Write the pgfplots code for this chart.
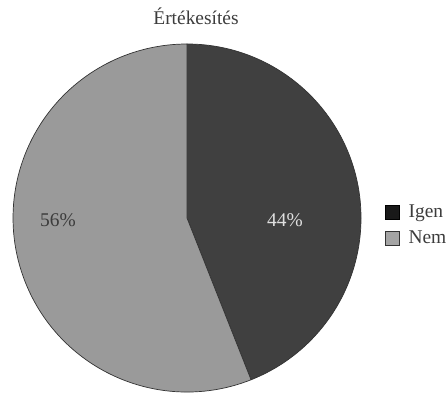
\documentclass[border=0pt]{standalone}
\usepackage{fontspec}
\setmainfont{Liberation Serif}
\usepackage{pgfplots}
\usepackage{pgfplotstable}
\pgfplotsset{compat=1.18}

\definecolor{igenfill}{HTML}{404040}
\definecolor{nemfill}{HTML}{9A9A9A}
\definecolor{edge}{HTML}{333333}
\definecolor{txt}{HTML}{3C3C3C}

% share of each answer
\pgfplotstableread{
name value
Igen 44
Nem  56
}\piedata

\newcommand\chartfont{\fontsize{19.5}{22}\selectfont}

\begin{document}
\begin{tikzpicture}
\pgfplotstablegetelem{0}{value}\of\piedata \let\vIgen\pgfplotsretval
\pgfplotstablegetelem{1}{value}\of\piedata \let\vNem\pgfplotsretval
\pgfmathsetmacro\angIgen{\vIgen/(\vIgen+\vNem)*360}
\pgfmathsetmacro\endIgen{90-\angIgen}
\useasboundingbox (0,0) rectangle (448bp,395bp);
\begin{axis}[
  scale only axis, width=448bp, height=395bp,
  xmin=0, xmax=448, ymin=0, ymax=395,
  hide axis, clip=false,
  legend image code/.code={\draw[#1] (0bp,-7bp) rectangle (14bp,7bp);
    \path (21bp,0bp);},
  legend style={at={(axis cs:385,170)}, anchor=west, draw=none, fill=none,
    inner sep=0pt, row sep=8bp, text=txt, font=\chartfont},
  legend cell align=left,
]
% slices, clockwise from twelve o'clock
\filldraw[fill=igenfill, draw=edge, line width=0.7bp]
  (axis cs:187,177) -- (axis cs:187,351)
  arc[start angle=90, end angle=\endIgen, radius=174bp] -- cycle;
\filldraw[fill=nemfill, draw=edge, line width=0.7bp]
  (axis cs:187,177) -- ++(\endIgen:174bp)
  arc[start angle=\endIgen, end angle=-270, radius=174bp] -- cycle;

\node[anchor=base, text=white!88!black, font=\chartfont]
  at (axis cs:285,168) {\vIgen\%};
\node[anchor=base, text=txt, font=\chartfont]
  at (axis cs:58,168) {\vNem\%};

\node[anchor=base, text=txt, font=\chartfont]
  at (axis cs:196,370) {Értékesítés};

\addlegendimage{fill=black!90, draw=black}
\addlegendentry{Igen}
\addlegendimage{fill=nemfill!90!white, draw=edge}
\addlegendentry{Nem}
\end{axis}
\end{tikzpicture}
\end{document}
